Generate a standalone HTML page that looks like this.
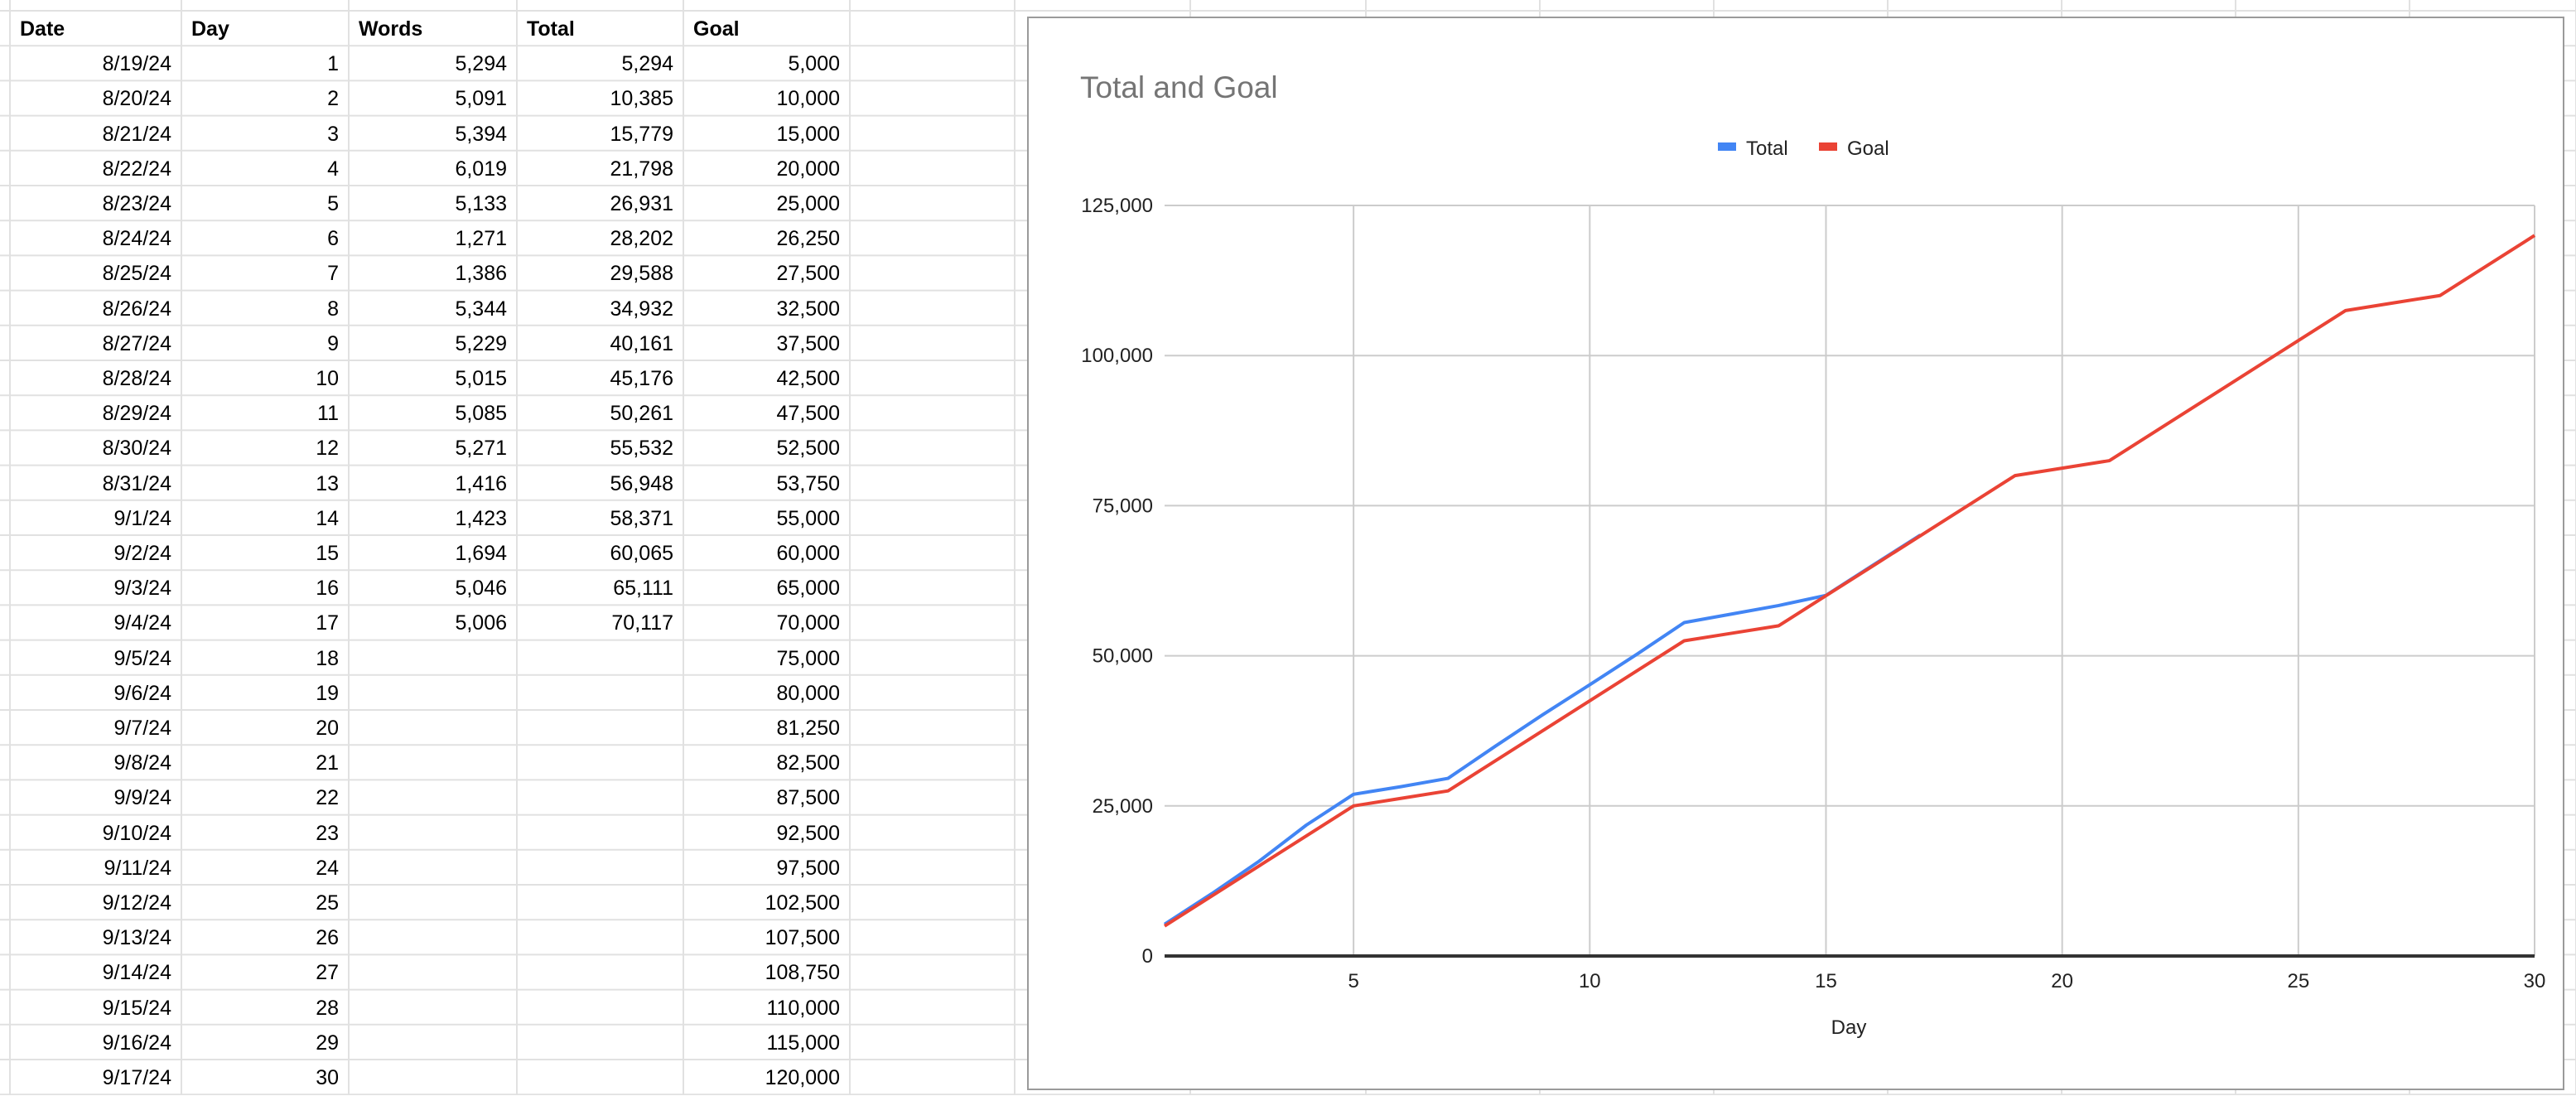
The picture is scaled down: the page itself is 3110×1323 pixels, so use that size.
<!DOCTYPE html>
<html><head><meta charset="utf-8"><style>
body{margin:0;width:3110px;height:1322px;background:#fff;overflow:hidden;font-family:"Liberation Sans",Arial,sans-serif;position:relative}
#sheet{position:absolute;left:0;top:0}
.c{position:absolute;height:42px;line-height:44px;font-size:25px;color:#000;box-sizing:border-box}
#chart{position:absolute;left:1240px;top:20px;width:1856px;height:1296px;background:#fff;border:2px solid #9a9a9a;box-sizing:border-box}
</style></head><body>
<svg id="sheet" width="3110" height="1322"></svg>
<div id="cells"></div>
<div id="chart">
<svg id="plot" width="1852" height="1292"></svg>
</div>
<script>
const days=[1,2,3,4,5,6,7,8,9,10,11,12,13,14,15,16,17,18,19,20,21,22,23,24,25,26,27,28,29,30];
const dates=["8/19/24","8/20/24","8/21/24","8/22/24","8/23/24","8/24/24","8/25/24","8/26/24","8/27/24","8/28/24","8/29/24","8/30/24","8/31/24","9/1/24","9/2/24","9/3/24","9/4/24","9/5/24","9/6/24","9/7/24","9/8/24","9/9/24","9/10/24","9/11/24","9/12/24","9/13/24","9/14/24","9/15/24","9/16/24","9/17/24"];
const words=[5294,5091,5394,6019,5133,1271,1386,5344,5229,5015,5085,5271,1416,1423,1694,5046,5006];
const totals=[5294,10385,15779,21798,26931,28202,29588,34932,40161,45176,50261,55532,56948,58371,60065,65111,70117];
const goals=[5000,10000,15000,20000,25000,26250,27500,32500,37500,42500,47500,52500,53750,55000,60000,65000,70000,75000,80000,81250,82500,87500,92500,97500,102500,107500,108750,110000,115000,120000];
const yTicks=[0,25000,50000,75000,100000,125000];
const xTicks=[5,10,15,20,25,30];
const fmt=n=>n.toLocaleString('en-US');
const NS='http://www.w3.org/2000/svg';
function mk(p,t,a){const e=document.createElementNS(NS,t);for(const k in a)e.setAttribute(k,a[k]);p.appendChild(e);return e;}
const sh=document.getElementById('sheet');
const colX=[12,219,421,624,825,1026,1225,1437,1649,1859,2069,2279,2489,2699,2909,3110];
const rowH=42.2, top0=13;
for(let i=0;i<=31;i++){const y=top0+i*rowH;const l=mk(sh,'line',{x1:0,x2:3110,y1:y,y2:y,stroke:'#e1e1e1','stroke-width':2});}
colX.forEach(x=>{const l=mk(sh,'line',{x1:x,x2:x,y1:0,y2:1322,stroke:'#e1e1e1','stroke-width':2});});
const cells=document.getElementById('cells');
function cell(txt,col,row,bold,right){const d=document.createElement('div');d.className='c';d.textContent=txt;
d.style.left=(colX[col]+2)+'px';d.style.width=(colX[col+1]-colX[col]-4)+'px';d.style.top=(top0+row*rowH)+'px';
d.style.textAlign=right?'right':'left';d.style.padding=right?'0 10px 0 0':'0 0 0 10px';if(bold)d.style.fontWeight='bold';


cells.appendChild(d);}
['Date','Day','Words','Total','Goal'].forEach((h,i)=>cell(h,i,0,true,false));
days.forEach((d,i)=>{cell(dates[i],0,i+1,false,true);cell(String(d),1,i+1,false,true);
if(i<words.length){cell(fmt(words[i]),2,i+1,false,true);cell(fmt(totals[i]),3,i+1,false,true);}
cell(fmt(goals[i]),4,i+1,false,true);});
const svg=document.getElementById('plot');
const L=1406-1242,R=3060-1242,T=248-22,B=1154-22;
const xS=d=>L+(d-1)/(29)*(R-L);
const yS=v=>B-v/125000*(B-T);
let t=mk(svg,'text',{x:1304-1242,y:118-22,'font-size':37,fill:'#757575'});t.textContent='Total and Goal';

const lg=mk(svg,'g',{});
[['Total','#4285f4',2074],['Goal','#ea4335',2196]].forEach(([n,c,x])=>{const g=mk(lg,'g',{});

mk(g,'rect',{x:x-1242,y:172-22,width:22,height:10,fill:c});const tt=mk(g,'text',{x:x-1242+34,y:187-22,'font-size':24,fill:'#222'});tt.textContent=n;});
yTicks.forEach(v=>{if(v>0){const l=mk(svg,'line',{x1:L,x2:R,y1:yS(v),y2:yS(v),stroke:'#cccccc','stroke-width':2});}
const tx=mk(svg,'text',{x:L-14,y:yS(v)+8,'font-size':24,'text-anchor':'end',fill:'#222'});tx.textContent=fmt(v);
});
xTicks.forEach(d=>{const l=mk(svg,'line',{x1:xS(d),x2:xS(d),y1:T,y2:B,stroke:'#cccccc','stroke-width':2});
const tx=mk(svg,'text',{x:xS(d),y:B+38,'font-size':24,'text-anchor':'middle',fill:'#222'});tx.textContent=d;
});
const ax=mk(svg,'line',{x1:L,x2:R,y1:B,y2:B,stroke:'#333','stroke-width':4});
const xt=mk(svg,'text',{x:2232-1242,y:1248-22,'font-size':24,'text-anchor':'middle',fill:'#222'});xt.textContent='Day';

function line(vals,c,n){const p=mk(svg,'polyline',{points:vals.map((v,i)=>xS(days[i])+','+yS(v)).join(' '),fill:'none',stroke:c,'stroke-width':4,'stroke-linejoin':'round'});
}
line(totals,'#4285f4','total-line');
line(goals,'#ea4335','goal-line');
</script>
</body></html>
